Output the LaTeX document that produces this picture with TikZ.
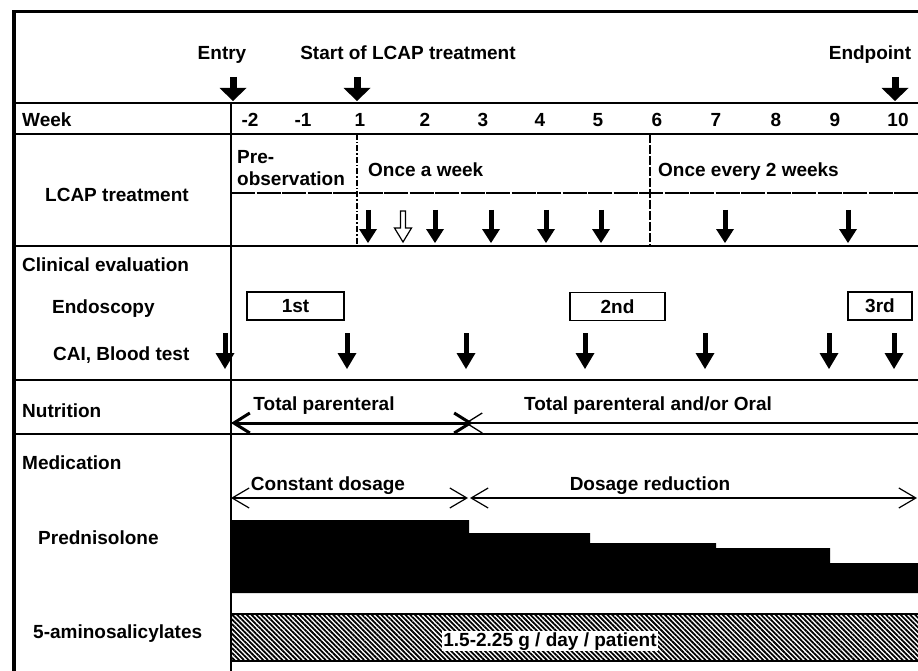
\documentclass[tikz,border=0pt]{standalone}
\usepackage{fontspec}
\setmainfont{Liberation Sans}
\usetikzlibrary{arrows.meta, patterns.meta}

\begin{document}
\begin{tikzpicture}[x=1pt, y=-1pt,
	every node/.style={font=\fontsize{19}{21}\selectfont\bfseries, inner sep=0pt},
	grid/.style={line width=1.6pt},
	bigarrow/.style={line width=7pt, -{Triangle[width=27pt, length=13pt, line width=0pt]}},
	lcaparrow/.style={line width=5pt, -{Triangle[width=18pt, length=14pt, line width=0pt]}},
	caiarrow/.style={line width=5pt, -{Triangle[width=19pt, length=16pt, line width=0pt]}},
	span/.style={line width=1.2pt, {Straight Barb[length=17pt, width=20pt]}-{Straight Barb[length=17pt, width=20pt]}},
	endobox/.style={draw, line width=1.2pt, minimum height=28pt}]
	\useasboundingbox (0,0) rectangle (918,671);
	
	% --- 表格线 ---
	\draw[line width=3pt] (12,12) -- (918,12);
	\draw[line width=4.5pt] (14,10.5) -- (14,671);
	\draw[grid] (14,103) -- (918,103);
	\draw[grid] (14,134) -- (918,134);
	\draw[grid, dash pattern=on 24pt off 1.5pt] (231,193) -- (918,193);
	\draw[grid] (14,246) -- (918,246);
	\draw[grid] (14,380) -- (918,380);
	\draw[grid] (14,434) -- (918,434);
	\draw[grid] (231,103) -- (231,671);
	% 治疗阶段分隔线
	\draw[line width=1.2pt, dash pattern=on 6pt off 2pt on 1.5pt off 2pt] (357,134) -- (357,246);
	\draw[line width=1.2pt, dash pattern=on 9pt off 2pt] (650,134) -- (650,246);
	
	% --- 表头 ---
	\node[anchor=base] (entry) at (222,60) {Entry};
	\node[anchor=base] (start) at (408,60) {Start of LCAP treatment};
	\node[anchor=base] (endpt) at (870,60) {Endpoint};
	\draw[bigarrow] (233,77) -- (233,101);
	\draw[bigarrow] (357,77) -- (357,101);
	\draw[bigarrow] (895,77) -- (895,101);
	
	% 周数
	\node[anchor=base west] (week) at (22,127) {Week};
	\node[anchor=base] (wkm2) at (250,127) {-2};
	\node[anchor=base] (wkm1) at (303,127) {-1};
	\node[anchor=base] (wk1) at (360,127) {1};
	\node[anchor=base] (wk2) at (425,127) {2};
	\node[anchor=base] (wk3) at (483,127) {3};
	\node[anchor=base] (wk4) at (540,127) {4};
	\node[anchor=base] (wk5) at (598,127) {5};
	\node[anchor=base] (wk6) at (657,127) {6};
	\node[anchor=base] (wk7) at (716,127) {7};
	\node[anchor=base] (wk8) at (776,127) {8};
	\node[anchor=base] (wk9) at (835,127) {9};
	\node[anchor=base] (wk10) at (898,127) {10};
	
	% --- LCAP 治疗 ---
	\node[anchor=base west] (lcap) at (45,201) {LCAP treatment};
	\node[anchor=base west] (pre) at (237,164) {Pre-};
	\node[anchor=base west] (obs) at (237,186) {observation};
	\node[anchor=base west] (weekly) at (368,177) {Once a week};
	\node[anchor=base west] (biweekly) at (658,177) {Once every 2 weeks};
	\draw[lcaparrow] (368,210) -- (368,243);
	\draw[line width=1.2pt] (400.5,211) -- (405.5,211) -- (405.5,228) -- (411.5,228)
		-- (403,242) -- (394.5,228) -- (400.5,228) -- cycle;
	\draw[lcaparrow] (435,210) -- (435,243);
	\draw[lcaparrow] (491,210) -- (491,243);
	\draw[lcaparrow] (546,210) -- (546,243);
	\draw[lcaparrow] (601,210) -- (601,243);
	\draw[lcaparrow] (725,210) -- (725,243);
	\draw[lcaparrow] (848,210) -- (848,243);
	
	% --- 临床评价 ---
	\node[anchor=base west] (clinical) at (22,271) {Clinical evaluation};
	\node[anchor=base west] (endo) at (52,313) {Endoscopy};
	\node[anchor=base west] (cai) at (53,360) {CAI, Blood test};
	\node[endobox, minimum width=97pt] (endo1) at (295.5,306) {1st};
	\node[endobox, minimum width=95pt] (endo2) at (617.5,306.5) {2nd};
	\node[endobox, minimum width=64pt] (endo3) at (880,306) {3rd};
	\draw[caiarrow] (225,333) -- (225,369);
	\draw[caiarrow] (347,333) -- (347,369);
	\draw[caiarrow] (466,333) -- (466,369);
	\draw[caiarrow] (585,333) -- (585,369);
	\draw[caiarrow] (705,333) -- (705,369);
	\draw[caiarrow] (829,333) -- (829,369);
	\draw[caiarrow] (894,333) -- (894,369);
	
	% --- 营养 ---
	\node[anchor=base west] (nutrition) at (22,417) {Nutrition};
	\node[anchor=base] (tpn) at (324,410) {Total parenteral};
	\node[anchor=base] (oral) at (648,410) {Total parenteral and/or Oral};
	\draw[line width=3pt, {Straight Barb[length=16pt, width=20pt]}-{Straight Barb[length=16pt, width=20pt]}] (231,423) -- (473,423);
	\draw[line width=1.3pt, {Straight Barb[length=16pt, width=20pt]}-] (465,423) -- (918,423);
	
	% --- 用药 ---
	\node[anchor=base west] (medication) at (22,469) {Medication};
	\node[anchor=base] (constant) at (328,490) {Constant dosage};
	\node[anchor=base] (reduction) at (650,490) {Dosage reduction};
	\draw[span] (231,498) -- (468,498);
	\draw[span] (470,498) -- (917,498);
	
	% 泼尼松龙剂量 (阶梯递减)
	\node[anchor=base west] (pred) at (38,544) {Prednisolone};
	\fill (231,520) -- (469,520) -- (469,533) -- (590,533) -- (590,543) -- (716,543)
		-- (716,548) -- (830,548) -- (830,563) -- (918,563) -- (918,593) -- (231,593) -- cycle;
	
	% 5-ASA (剂量恒定)
	\node[anchor=base west] (asa) at (33,638) {5-aminosalicylates};
	\draw[line width=1.2pt, pattern={Lines[angle=135, distance=3.4pt, line width=1.8pt]}] (231,614) rectangle (920,661);
	\node[fill=white, inner sep=1pt, anchor=base] (dose) at (550,646) {1.5-2.25 g / day / patient};
\end{tikzpicture}
\end{document}
